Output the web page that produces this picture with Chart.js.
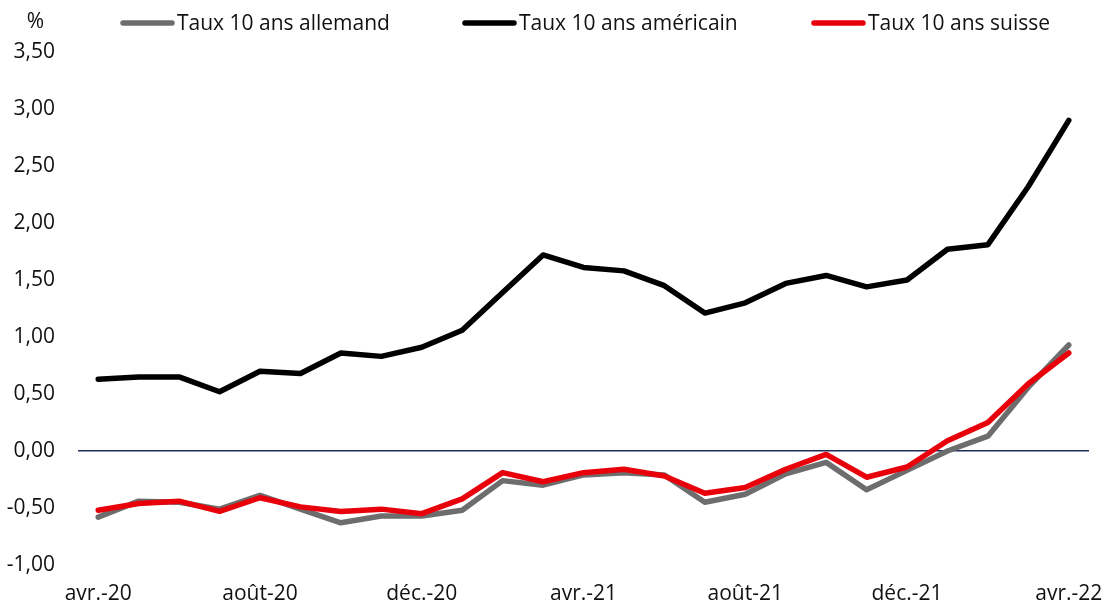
<!DOCTYPE html>
<html>
<head>
<meta charset="utf-8">
<script src="https://cdn.jsdelivr.net/npm/chart.js@4.4.1/dist/chart.umd.min.js"></script>
<style>
  html, body { margin: 0; padding: 0; background: #ffffff; }
  #c { display: block; }
</style>
</head>
<body>
<canvas id="c" width="1110" height="604"></canvas>
<script>
// ---- Data ----
const months = ['avr.-20','mai-20','juin-20','juil.-20','août-20','sept.-20','oct.-20','nov.-20','déc.-20','janv.-21','févr.-21','mars-21','avr.-21','mai-21','juin-21','juil.-21','août-21','sept.-21','oct.-21','nov.-21','déc.-21','janv.-22','févr.-22','mars-22','avr.-22'];
const seriesNames = ['Taux 10 ans allemand', 'Taux 10 ans américain', 'Taux 10 ans suisse'];
const tauxAllemand = [-0.58,-0.44,-0.45,-0.51,-0.39,-0.51,-0.63,-0.57,-0.57,-0.52,-0.26,-0.30,-0.21,-0.19,-0.21,-0.45,-0.38,-0.20,-0.10,-0.34,-0.17,0.00,0.13,0.56,0.93];
const tauxAmericain = [0.63,0.65,0.65,0.52,0.70,0.68,0.86,0.83,0.91,1.06,1.39,1.72,1.61,1.58,1.45,1.21,1.30,1.47,1.54,1.44,1.50,1.77,1.81,2.32,2.90];
const tauxSuisse = [-0.52,-0.46,-0.44,-0.53,-0.41,-0.49,-0.53,-0.51,-0.55,-0.42,-0.19,-0.27,-0.19,-0.16,-0.22,-0.37,-0.32,-0.16,-0.03,-0.23,-0.14,0.09,0.25,0.59,0.86];
const yMin = -1.0, yMax = 3.5, yStep = 0.5;
const unitLabel = '%';

const FONT = '"Open Sans", "Noto Sans", sans-serif';
const FS = 21;
const TEXT = '#111111';
const colors = ['#6d6d6d', '#000000', '#e8000b'];

const legendPlugin = {
  id: 'customLegend',
  afterDraw(chart) {
    const ctx = chart.ctx;
    const starts = [120, 462, 811];
    const lineLen = 55;
    const yLine = 23;
    const yText = 30;
    ctx.save();
    ctx.font = FS + 'px ' + FONT;
    ctx.textBaseline = 'alphabetic';
    ctx.textAlign = 'left';
    chart.data.datasets.forEach((ds, i) => {
      const x = starts[i];
      ctx.strokeStyle = ds.borderColor;
      ctx.lineWidth = 5.5;
      ctx.lineCap = 'round';
      ctx.beginPath();
      ctx.moveTo(x + 3, yLine);
      ctx.lineTo(x + lineLen - 3, yLine);
      ctx.stroke();
      ctx.fillStyle = TEXT;
      ctx.fillText(ds.label, x + lineLen + 2, yText);
    });
    // unit label
    ctx.textAlign = 'center';
    ctx.fillText(unitLabel, 35.5, 28);
    ctx.restore();
  }
};

new Chart(document.getElementById('c'), {
  type: 'line',
  data: {
    labels: months,
    datasets: [
      { label: seriesNames[0], data: tauxAllemand, borderColor: colors[0], order: 2 },
      { label: seriesNames[1], data: tauxAmericain, borderColor: colors[1], order: 1 },
      { label: seriesNames[2], data: tauxSuisse, borderColor: colors[2], order: 0 }
    ].map(d => Object.assign(d, {
      borderWidth: 5.5, pointRadius: 0, pointHoverRadius: 0, tension: 0, fill: false,
      borderCapStyle: 'round', borderJoinStyle: 'round', backgroundColor: d.borderColor
    }))
  },
  options: {
    responsive: false,
    animation: false,
    layout: { padding: { top: 52, right: 21, left: 0, bottom: 0 } },
    plugins: { legend: { display: false }, tooltip: { enabled: false } },
    scales: {
      x: {
        offset: true,
        grid: { display: false, drawTicks: false },
        border: { display: false },
        ticks: {
          autoSkip: false, maxRotation: 0, minRotation: 0, padding: 16,
          color: TEXT, font: { family: FONT, size: FS },
          callback: function(v, i) { return i % 4 === 0 ? this.getLabelForValue(v) : ''; }
        },
        afterFit(s) { s.height = 39; s.paddingLeft = 0; s.paddingRight = 0; }
      },
      y: {
        min: yMin, max: yMax,
        grid: {
          drawTicks: false,
          color: ctx => (ctx.tick && ctx.tick.value === 0) ? '#1f2b5c' : 'rgba(0,0,0,0)',
          lineWidth: ctx => (ctx.tick && ctx.tick.value === 0) ? 1.5 : 0
        },
        border: { display: false },
        ticks: {
          stepSize: yStep, padding: 23, color: TEXT, font: { family: FONT, size: FS },
          callback: v => v.toFixed(2).replace('.', ',')
        },
        afterFit(s) { s.width = 78; s.paddingTop = 0; s.paddingBottom = 0; }
      }
    }
  },
  plugins: [legendPlugin]
});
</script>
</body>
</html>
